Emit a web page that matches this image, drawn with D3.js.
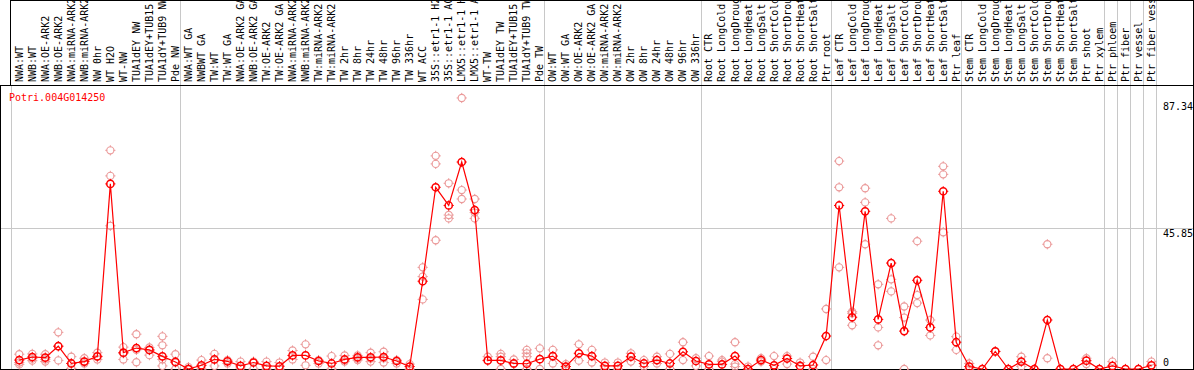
<!DOCTYPE html>
<html>
<head>
<meta charset="utf-8">
<script src="https://cdn.jsdelivr.net/npm/d3@7"></script>
<style>
  body { margin: 0; background: #fff; }
  svg { display: block; }
  text { font-family: "DejaVu Sans Mono", monospace; font-size: 10px; }
</style>
</head>
<body>
<svg width="1194" height="370"></svg>
<script>
const geneId = "Potri.004G014250";

const samples = [
  "NWA:WT", "NWB:WT", "NWA:OE-ARK2", "NWB:OE-ARK2", "NWA:miRNA-ARK2", "NWB:miRNA-ARK2",
  "NW 0hr", "WT H2O", "WT-NW", "TUA1dEY NW", "TUA1dEY+TUB15 NW", "TUA1dY+TUB9 NW", "Pde NW",
  "NWA:WT GA", "NWBWT GA", "TW:WT", "TW:WT GA", "NWA:OE-ARK2 GA", "NWB:OE-ARK2 GA",
  "TW:OE-ARK2", "TW:OE-ARK2 GA", "NWA:miRNA-ARK2 GA", "NWB:miRNA-ARK2 GA", "TW:miRNA-ARK2",
  "TW:miRNA-ARK2 GA", "TW 2hr", "TW 8hr", "TW 24hr", "TW 48hr", "TW 96hr", "TW 336hr",
  "WT ACC", "35S::etr1-1 H2O", "35S::etr1-1 ACC", "LMX5::etr1-1 H2O", "LMX5::etr1-1 ACC",
  "WT-TW", "TUA1dEY TW", "TUA1dEY+TUB15 TW", "TUA1dY+TUB9 TW", "Pde TW",
  "OW:WT", "OW:WT GA", "OW:OE-ARK2", "OW:OE-ARK2 GA", "OW:miRNA-ARK2", "OW:miRNA-ARK2 GA",
  "OW 2hr", "OW 8hr", "OW 24hr", "OW 48hr", "OW 96hr", "OW 336hr",
  "Root CTR", "Root LongCold", "Root LongDrought", "Root LongHeat", "Root LongSalt",
  "Root ShortCold", "Root ShortDrought", "Root ShortHeat", "Root ShortSalt", "Ptr root",
  "Leaf CTR", "Leaf LongCold", "Leaf LongDrought", "Leaf LongHeat", "Leaf LongSalt",
  "Leaf ShortCold", "Leaf ShortDrought", "Leaf ShortHeat", "Leaf ShortSalt", "Ptr leaf",
  "Stem CTR", "Stem LongCold", "Stem LongDrought", "Stem LongHeat", "Stem LongSalt",
  "Stem ShortCold", "Stem ShortDrought", "Stem ShortHeat", "Stem ShortSalt", "Ptr shoot",
  "Ptr xylem", "Ptr phloem", "Ptr fiber", "Ptr vessel", "Ptr fiber vessel"
];

const means = [
  2.9, 3.9, 3.7, 7.4, 1.8, 2.4, 4.1, 60.1, 5.3, 6.8, 6.2, 4.1, 2.3,
  0, 1.2, 3.1, 2.5, 1.0, 2.1, 1.0, 0.9, 4.4, 4.4, 2.6, 1.8, 3.1, 3.8, 3.8, 3.9, 2.6, 0.8,
  28.5, 59.0, 53.1, 67.2, 51.6, 2.8, 2.8, 1.8, 1.7, 3.2,
  4.2, 0.8, 5.1, 4.2, 1.0, 1.0, 4.0, 1.8, 2.9, 1.8, 5.6, 2.6,
  1.5, 1.5, 4.2, 0, 2.9, 1.2, 3.4, 1.0, 1.3, 10.7,
  53.1, 16.8, 51.2, 16.1, 34.4, 12.3, 28.8, 13.5, 57.7, 8.7,
  0.8, 0, 5.7, 0, 2.4, 0, 15.9, 0, 0, 2.7,
  0, 1.0, 0, 0, 1.2
];

const replicates = [
  [4.8, 2.1, 1.5], [4.9, 3.4, 2.7], [4.8, 3.1, 2.4], [11.9, 7.4, 2.8], [4.0, 1.8, 0.2],
  [3.5, 2.4, 1.8], [5.3, 4.0, 3.1], [71.0, 62.7, 46.5], [7.1, 5.1, 3.1], [11.3, 6.2, 2.2],
  [7.0, 6.1, 4.5], [10.6, 7.7, 3.1, 1.0], [4.8, 2.1, 0],
  [0.6, 0], [2.9, 0], [4.9, 3.1, 1.0], [2.9, 1.8], [2.4, 0.3], [2.4, 0], [2.4, 0], [2.1, 0],
  [6.0, 3.1], [8.0, 1.2], [2.9, 1.8], [4.2, 0], [4.4, 2.9, 2.4], [4.4, 3.4, 2.9],
  [5.3, 3.4, 2.4], [5.6, 3.5, 2.1], [2.9, 1.8], [1.6, 0],
  [33.0, 30.0, 22.6], [69.2, 66.6, 41.8], [60.3, 50.0, 48.9], [88.0, 58.1, 55.2],
  [55.2, 50.8, 48.9], [4.0, 2.7], [4.9, 4.0, 0], [3.1, 1.6], [6.2, 5.1, 4.0, 0], [6.7, 0],
  [6.2, 1.8], [1.6, 0], [8.0, 2.7], [6.2, 2.1], [2.1, 0], [2.1, 0], [5.1, 2.4], [2.9, 0.8],
  [4.0, 1.8], [4.9, 0], [8.7, 2.9], [3.5, 1.0],
  [4.2, 0], [2.9, 2.4], [8.7, 1.6, 0.8], [0.8], [3.5, 2.4], [4.2, 0], [4.2, 1.6], [2.1, 0.8],
  [4.0, 0], [19.5, 2.9],
  [67.5, 59.0, 33.0], [18.6, 18.1, 14.2], [58.7, 54.1, 40.5], [27.5, 13.5, 7.7],
  [48.9, 29.1, 25.2], [20.3, 16.7, 0], [41.5, 24.0, 21.4], [15.9, 10.9], [65.8, 63.2, 44.4],
  [10.5, 6.2],
  [1.8, 0], [], [5.7], [], [4.0, 0.8], [], [40.5, 3.5], [], [], [3.5, 1.6],
  [], [2.4], [], [], [2.4]
];

const yTicks = [0, 45.85, 87.34];
// index of the first sample in each group; a grey rule is drawn at each
const groupStarts = [0, 13, 41, 53, 63, 73, 84, 85, 86, 87, 88];

const W = 1194, H = 370;
const headerH = 85, plotBottom = 369, rightEdge = 1193;

const svg = d3.select("svg");

const x = d3.scaleBand().domain(samples).range([10.8, 1156]).paddingInner(0).paddingOuter(0);
const cx = (i) => x(samples[i]) + x.bandwidth() * 0.65;
const y = d3.scaleLinear().domain([0, 87.34]).range([plotBottom, 100]);
const crisp = (v) => Math.round(v) + 0.5;

// grid
const grid = svg.append("g").attr("stroke", "#c8c8c8").attr("stroke-width", 1);
grid.append("line")
  .attr("x1", 0).attr("x2", rightEdge)
  .attr("y1", crisp(y(45.85))).attr("y2", crisp(y(45.85)));
groupStarts.forEach((gi) => {
  const gx = gi < samples.length ? x(samples[gi]) : x.range()[1];
  grid.append("line")
    .attr("x1", crisp(gx)).attr("x2", crisp(gx))
    .attr("y1", gi === 0 ? headerH : 0).attr("y2", plotBottom);
});

// frame
const frame = svg.append("g").attr("stroke", "#000").attr("stroke-width", 1);
frame.append("line").attr("x1", 10.5).attr("x2", 10.5).attr("y1", 0).attr("y2", headerH);
frame.append("line").attr("x1", 10).attr("x2", rightEdge).attr("y1", 0.5).attr("y2", 0.5);
frame.append("line").attr("x1", 0).attr("x2", rightEdge + 1).attr("y1", headerH + 0.5).attr("y2", headerH + 0.5);
frame.append("line").attr("x1", 0.5).attr("x2", 0.5).attr("y1", headerH).attr("y2", plotBottom);
frame.append("line").attr("x1", 0).attr("x2", rightEdge + 1).attr("y1", plotBottom + 0.5).attr("y2", plotBottom + 0.5);
frame.append("line").attr("x1", rightEdge + 0.5).attr("x2", rightEdge + 0.5).attr("y1", 0).attr("y2", plotBottom);

// sample labels in the header
const header = svg.append("g");
samples.forEach((s, i) => {
  header.append("text")
    .attr("transform", `translate(${cx(i) + 3.5},82) rotate(-90)`)
    .attr("fill", "#000")
    .text(s);
});

// y labels on the right
yTicks.forEach((t) => {
  svg.append("text")
    .attr("x", 1163)
    .attr("y", Math.min(y(t) + 9.5, 366))
    .attr("fill", "#000")
    .text(t === 0 ? "0" : t.toFixed(2));
});

svg.append("text").attr("x", 9).attr("y", 101).attr("fill", "#ff0000").text(geneId);

const marker = (g, px, py, r, color, sw) => {
  g.append("circle").attr("cx", px).attr("cy", py).attr("r", r)
    .attr("fill", "none").attr("stroke", color).attr("stroke-width", sw);
  g.append("path")
    .attr("d", `M${px},${py - r - 1.5}V${py - r + 0.5}M${px},${py + r - 0.5}V${py + r + 1.5}` +
      `M${px - r - 1.5},${py}H${px - r + 0.5}M${px + r - 0.5},${py}H${px + r + 1.5}`)
    .attr("stroke", color).attr("stroke-width", 1).attr("fill", "none");
};

// replicate points
const repG = svg.append("g");
replicates.forEach((reps, i) => {
  reps.forEach((v) => marker(repG, cx(i), y(v), 3.6, "#eb9a9a", 1.1));
});

// mean line
const line = d3.line().x((d, i) => cx(i)).y((d) => y(d));
svg.append("path")
  .datum(means)
  .attr("d", line)
  .attr("fill", "none")
  .attr("stroke", "#ff0000")
  .attr("stroke-width", 1.2);

const meanG = svg.append("g");
means.forEach((v, i) => marker(meanG, cx(i), y(v), 3.6, "#ff0000", 1.5));
</script>
</body>
</html>
